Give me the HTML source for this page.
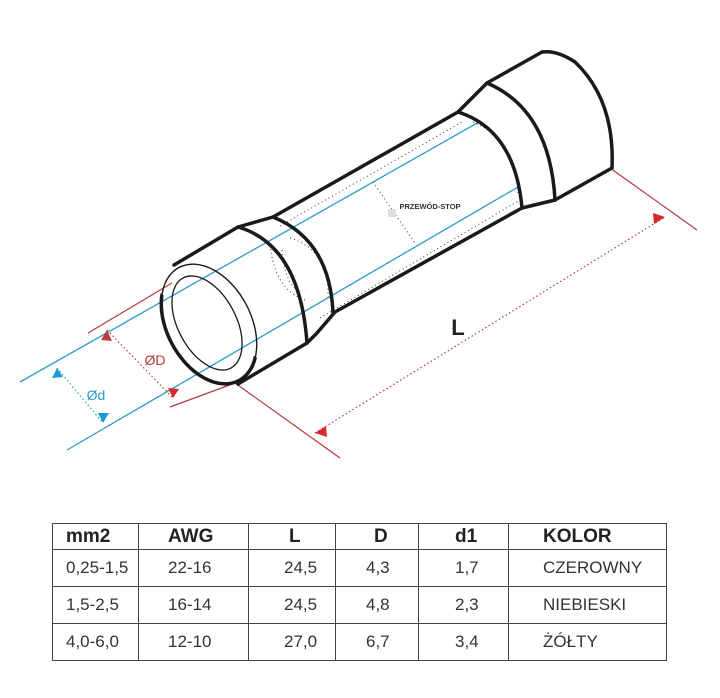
<!DOCTYPE html>
<html><head><meta charset="utf-8"><style>
body{margin:0;background:#fff;width:720px;height:698px;overflow:hidden}
table{position:absolute;left:52px;top:523px;border-collapse:collapse;font-family:"Liberation Sans",sans-serif;color:#333;table-layout:fixed}
td{border:1.5px solid #444;height:36px;padding:0;font-size:17px;white-space:nowrap}
tr.h td{font-weight:bold;font-size:19px;height:25px;color:#222}
</style></head><body>
<svg width="720" height="520" style="position:absolute;left:0;top:0" xmlns="http://www.w3.org/2000/svg">
<defs><clipPath id="lh"><polygon points="0,0 168,0 172,258 244,392 244,520 0,520"/></clipPath></defs>
<g fill="none">
<line x1="20" y1="382" x2="479" y2="122" stroke="#2a9bc7" stroke-width="1.3"/>
<line x1="67" y1="450" x2="518" y2="187" stroke="#2a9bc7" stroke-width="1.3"/>
<line x1="57" y1="368" x2="103" y2="423" stroke="#2a9bc7" stroke-width="1.2" stroke-dasharray="1.5 2.5"/>
<line x1="88" y1="333" x2="172" y2="283" stroke="#b5393d" stroke-width="1.2"/>
<line x1="170" y1="407" x2="235" y2="383" stroke="#b5393d" stroke-width="1.2"/>
<line x1="107" y1="330" x2="173" y2="398" stroke="#b5393d" stroke-width="1.2" stroke-dasharray="1.5 2.5"/>
<line x1="235" y1="383" x2="340" y2="458" stroke="#b5393d" stroke-width="1.2"/>
<line x1="610" y1="168" x2="697" y2="230" stroke="#b5393d" stroke-width="1.2"/>
<line x1="315" y1="433" x2="665" y2="217" stroke="#b5393d" stroke-width="1.2" stroke-dasharray="1.5 2.5"/>
<path d="M473 122 Q515 140 518 193" stroke="#333" stroke-width="1" stroke-dasharray="1 3"/>
<path d="M290 238 Q330 250 328 300" stroke="#333" stroke-width="1" stroke-dasharray="1 3"/>
<path d="M270 245 Q275 290 305 300" stroke="#333" stroke-width="1" stroke-dasharray="1 3"/>
<path d="M282 250 Q285 285 300 292" stroke="#333" stroke-width="1" stroke-dasharray="1 3"/>
<line x1="280" y1="226" x2="462" y2="122" stroke="#333" stroke-width="1" stroke-dasharray="1 3"/>
<line x1="320" y1="318" x2="520" y2="200" stroke="#333" stroke-width="1" stroke-dasharray="1 3"/>
<line x1="373" y1="182" x2="415" y2="243" stroke="#333" stroke-width="1" stroke-dasharray="1 3"/>
<rect x="388" y="209" width="8" height="8" fill="#ddd"/>
<g stroke="#1a1a1a" stroke-width="3.5" stroke-linejoin="round" stroke-linecap="round">
<ellipse cx="209" cy="324" rx="42" ry="64" transform="rotate(-28 209 324)" clip-path="url(#lh)"/>
<path d="M174 265 L238 227 L273 217 L458 112 L487 83 L542 52 Q557 50 575 62 Q615 100 612 168 L555 200 L522 208 L335 312 L317 333 L307 343 L238 384"/>
<path d="M238 227 Q300 245 307 343"/>
<path d="M273 217 Q330 240 333 313"/>
<path d="M458 112 Q515 130 522 208"/>
<path d="M487 83 Q550 110 555 200"/>
</g>
<ellipse cx="209" cy="324" rx="42" ry="64" transform="rotate(-28 209 324)" stroke="#1a1a1a" stroke-width="1.4"/>
<ellipse cx="207" cy="323" rx="29" ry="51" transform="rotate(-28 207 323)" stroke="#1a1a1a" stroke-width="1.3"/>
</g>
<g stroke="none">
<polygon points="107,330 101,340 112,341" fill="#c0393d"/>
<polygon points="173,398 168,388 179,389" fill="#d42a2a"/>
<polygon points="57,368 52,378 63,377" fill="#1e98d6"/>
<polygon points="103,423 98,413 109,413" fill="#1e98d6"/>
<polygon points="315,433 326,426 327,437" fill="#d42a2a"/>
<polygon points="665,217 654,224 653,213" fill="#d42a2a"/>
</g>
<text x="96" y="400" font-family="Liberation Sans,sans-serif" font-size="14" fill="#2a9bc7" text-anchor="middle">Ød</text>
<text x="155" y="365" font-family="Liberation Sans,sans-serif" font-size="14" fill="#b5393d" text-anchor="middle">ØD</text>
<text x="458" y="335" font-family="Liberation Sans,sans-serif" font-size="22" font-weight="bold" fill="#222" text-anchor="middle">L</text>
<text x="430" y="209" font-family="Liberation Sans,sans-serif" font-size="7.5" font-weight="bold" fill="#333" text-anchor="middle">PRZEWÓD-STOP</text>
</svg>
<table>
<colgroup><col style="width:86px"><col style="width:110px"><col style="width:87px"><col style="width:83px"><col style="width:90px"><col style="width:158px"></colgroup>
<tr class="h"><td style="padding-left:13px">mm2</td><td style="padding-left:29px">AWG</td><td style="padding-left:40px">L</td><td style="padding-left:38px">D</td><td style="padding-left:36px">d1</td><td style="padding-left:34px">KOLOR</td></tr>
<tr><td style="padding-left:13px">0,25-1,5</td><td style="padding-left:29px">22-16</td><td style="padding-left:35px">24,5</td><td style="padding-left:30px">4,3</td><td style="padding-left:36px">1,7</td><td style="padding-left:34px">CZEROWNY</td></tr>
<tr><td style="padding-left:13px">1,5-2,5</td><td style="padding-left:29px">16-14</td><td style="padding-left:35px">24,5</td><td style="padding-left:30px">4,8</td><td style="padding-left:36px">2,3</td><td style="padding-left:34px">NIEBIESKI</td></tr>
<tr><td style="padding-left:13px">4,0-6,0</td><td style="padding-left:29px">12-10</td><td style="padding-left:35px">27,0</td><td style="padding-left:30px">6,7</td><td style="padding-left:36px">3,4</td><td style="padding-left:34px">ŻÓŁTY</td></tr>
</table>
</body></html>
